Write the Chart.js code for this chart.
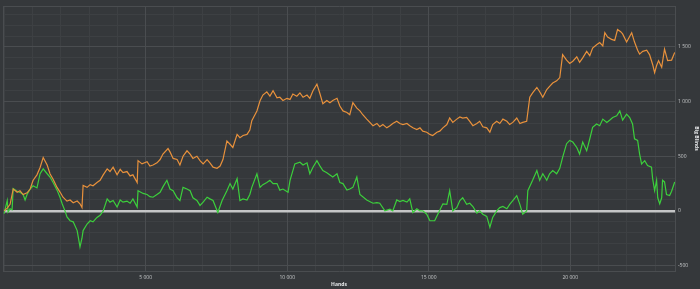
<!DOCTYPE html>
<html lang="en">
<head>
    <meta charset="UTF-8">
    <title>Big Blinds / Hands</title>
    <script src="https://cdn.jsdelivr.net/npm/chart.js"></script>
    <style>
        html, body {
            margin: 0;
            padding: 0;
            background-color: #35383b;
        }
        #box {
            width: 700px;
            height: 289px;
        }
    </style>
</head>
<body>
    <div id="box"><canvas id="grafico"></canvas></div>

    <script>
        // orange line (hands, big blinds)
        const orangeHands = [
            0,110,210,320,460,560,670,810,920,1020,
            1160,1270,1380,1520,1620,1730,1870,1980,2080,2220,
            2330,2440,2580,2680,2750,2790,2930,3040,3140,3280,
            3390,3500,3640,3740,3850,3990,4100,4200,4340,4450,
            4550,4700,4730,4870,5050,5150,5260,5400,5510,5610,
            5790,5860,5970,6110,6210,6320,6460,6570,6670,6810,
            6920,
            7030,7170,7270,7380,7520,7630,7730,7870,7980,8080,
            8230,8330,8440,8580,8680,8750,8930,9040,9140,9280,
            9390,9500,9640,9740,9850,9990,10100,10200,10340,10450,
            10560,10700,10800,10910,11050,11160,11260,11400,11510,11610,
            11760,11860,11970,12110,12210,12320,12460,12570,12670,12810,
            12920,13030,13170,13270,13380,13520,13630,13730,13870,13980,
            14090,14230,14330,14440,14580,14690,14790,14930,15040,15140,
            15290,15390,15500,15640,15740,15850,15990,16100,16200,16340,
            16450,16560,16700,16800,16910,17050,17160,17260,17400,17510,
            17620,17760,17860,17970,18110,18220,18320,18460,18570,18670,
            18820,18920,19030,19170,19270,19380,19520,19630,19730,19870,
            19980,20090,20230,20330,20440,20580,20690,20790,20930,21040,
            21150,21220,21320,21460,21570,21670,21780,21850,21990,22170,
            22270,22380,22450,22560,22700,22800,22910,22980,23050,23120,
            23230,23330,23440,23580,23690
        ];
        const orangeBB = [
            0,25,60,200,170,185,150,165,200,278,
            330,397,488,420,340,290,215,170,125,90,
            100,75,90,65,30,232,215,240,230,260,
            280,330,385,360,400,330,380,350,360,320,
            330,260,460,430,450,410,420,440,470,520,
            570,540,480,470,420,500,550,520,480,500,
            460,
            430,470,440,400,390,410,470,640,610,580,
            700,670,690,700,740,825,915,1008,1060,1090,
            1050,1100,1035,1040,1010,1030,1020,1070,1050,1080,
            1040,1060,1030,1100,1160,1070,980,1010,990,1010,
            1030,960,915,900,880,990,940,915,880,840,
            810,780,800,770,790,760,780,800,820,800,
            790,800,780,760,745,760,730,720,700,690,
            720,730,760,790,850,810,840,860,850,855,
            820,780,800,820,770,760,720,790,820,800,
            840,820,790,810,850,800,810,820,1040,1080,
            1130,1090,1040,1110,1140,1170,1190,1220,1430,1380,
            1350,1370,1410,1360,1400,1460,1420,1490,1520,1540,
            1510,1630,1590,1570,1560,1660,1640,1620,1545,1630,
            1545,1470,1435,1460,1470,1430,1340,1265,1330,1375,
            1315,1480,1375,1380,1450
        ];

        // green line (hands, big blinds)
        const greenHands = [
            0,40,110,140,210,280,320,460,560,670,
            740,810,920,1020,1160,1270,1380,1520,1620,1730,
            1870,1980,2050,2150,2220,2330,2440,2580,2680,2750,
            2790,2930,3040,3140,3280,3390,3500,3640,3740,3850,
            3990,4100,4200,4340,4450,4550,4700,4730,4910,5050,
            5150,5260,5400,5510,5610,5750,5860,5970,6110,6210,
            6320,6460,6570,6670,6810,6920,
            7030,7170,7270,7380,7550,7700,7870,7980,8080,8230,
            8330,8440,8580,8680,8750,8930,9040,9140,9280,9390,
            9500,9640,9740,9850,10030,10100,10270,10450,10560,10700,
            10800,10910,11050,11160,11260,11400,11610,11760,11860,11970,
            12110,12210,12320,12460,12570,12810,13030,13170,13270,13450,
            13630,13730,13870,13980,
            14090,14230,14330,14440,14580,14690,14790,14930,15040,15210,
            15320,15500,15640,15740,15850,15990,16100,16200,16340,16450,
            16560,16700,16800,16910,17050,17160,17260,17400,17510,17620,
            17760,17860,17970,18110,18220,18320,18460,18500,18670,18820,
            18920,19030,19170,19270,19380,19520,19630,19730,19870,19980,
            20090,20230,20330,20440,20580,20690,20790,20930,21040,
            21150,21290,21390,21500,21640,21750,21850,21990,22100,22200,
            22270,22380,22450,22520,22630,22730,22870,22910,22980,23050,
            23090,23160,23230,23260,23330,23400,23510,23580,23690
        ];
        const greenBB = [
            -25,20,95,-10,20,10,205,180,170,150,
            100,150,200,230,210,340,385,340,310,260,
            190,120,65,0,-55,-90,-100,-180,-330,-250,
            -180,-120,-90,-100,-60,-40,0,110,80,95,
            35,100,80,90,70,110,35,185,160,150,
            130,125,150,170,220,280,200,185,120,95,
            215,200,185,120,95,50,
            80,125,110,95,-15,95,185,250,200,295,
            95,110,100,150,215,340,215,240,260,280,
            250,250,190,200,170,280,430,445,420,440,
            340,400,460,410,370,350,310,340,260,250,
            190,200,215,310,150,100,70,75,70,0,
            15,0,100,85,
            95,80,110,-15,20,0,0,-30,-90,-90,
            -30,65,60,185,0,30,95,120,60,70,
            40,-20,0,-30,-50,-150,-60,0,30,40,
            20,60,95,140,60,-30,0,185,280,370,
            280,340,280,340,370,340,390,490,615,645,
            630,580,520,630,550,660,765,795,780,
            840,810,830,855,870,915,830,885,855,795,
            660,645,520,430,460,415,400,295,185,280,
            120,65,120,280,265,150,140,180,265
        ];

        // tick labels
        const handsTicks = [5000, 10000, 15000, 20000];
        const bbTicks = [-500, 0, 500, 1000, 1500];

        // axis ranges
        const handsMin = -40, handsMax = 23700, handsMinorStep = 1000;
        const bbMin = -550, bbMax = 1875, bbMinorStep = 100;

        const corGrade = '#4a4d50';
        const corGradeFina = '#3d4043';
        const corTexto = '#c4c6c8';

        function pares(xs, ys) {
            return xs.map((x, i) => ({ x: x, y: ys[i] }));
        }

        function milhar(v) {
            return String(v).replace(/\B(?=(\d{3})+(?!\d))/g, ' ');
        }

        // minor grid positions: every step, skipping the labelled ones
        function fina(step, min, max, majores) {
            const lista = [];
            for (let v = Math.ceil(min / step) * step; v < max; v += step) {
                if (v > min && !majores.includes(v)) lista.push({ value: v });
            }
            return lista;
        }

        const ctx = document.getElementById('grafico').getContext('2d');

        new Chart(ctx, {
            type: 'line',
            data: {
                datasets: [
                    {
                        label: 'orange',
                        data: pares(orangeHands, orangeBB),
                        borderColor: '#e8913c',
                        borderWidth: 1.2,
                        pointRadius: 0,
                        tension: 0,
                        xAxisID: 'x',
                        yAxisID: 'y'
                    },
                    {
                        label: 'green',
                        data: pares(greenHands, greenBB),
                        borderColor: '#3ccf3c',
                        borderWidth: 1.2,
                        pointRadius: 0,
                        tension: 0,
                        xAxisID: 'x',
                        yAxisID: 'y'
                    }
                ]
            },
            options: {
                responsive: true,
                maintainAspectRatio: false,
                animation: false,
                layout: { padding: { left: 3, top: 5, right: 0, bottom: 0 } },
                plugins: {
                    legend: { display: false },
                    tooltip: { enabled: false }
                },
                scales: {
                    xMinor: {
                        type: 'linear',
                        position: 'top',
                        min: handsMin,
                        max: handsMax,
                        ticks: { display: false },
                        afterBuildTicks: s => { s.ticks = fina(handsMinorStep, handsMin, handsMax, handsTicks); },
                        afterFit: s => { s.height = 0; },
                        grid: { drawTicks: false, color: corGradeFina },
                        border: { display: true, color: corGrade }
                    },
                    yMinor: {
                        type: 'linear',
                        position: 'left',
                        min: bbMin,
                        max: bbMax,
                        ticks: { display: false },
                        afterBuildTicks: s => { s.ticks = fina(bbMinorStep, bbMin, bbMax, bbTicks); },
                        afterFit: s => { s.width = 0; },
                        grid: { drawTicks: false, color: corGradeFina },
                        border: { display: true, color: corGrade }
                    },
                    x: {
                        type: 'linear',
                        position: 'bottom',
                        min: handsMin,
                        max: handsMax,
                        ticks: {
                            color: corTexto,
                            font: { family: 'Open Sans', size: 5 },
                            padding: 4,
                            maxRotation: 0,
                            autoSkip: false,
                            callback: v => milhar(v)
                        },
                        afterBuildTicks: s => { s.ticks = handsTicks.map(v => ({ value: v })); },
                        afterFit: s => { s.height = 18; },
                        grid: { drawTicks: false, color: corGrade },
                        border: { display: true, color: corGrade },
                        title: {
                            display: true,
                            text: 'Hands',
                            color: '#e4e6e8',
                            font: { family: 'Open Sans', size: 5, weight: 'bold' },
                            padding: { top: 2, bottom: 1 }
                        }
                    },
                    y: {
                        type: 'linear',
                        position: 'right',
                        min: bbMin,
                        max: bbMax,
                        ticks: {
                            color: corTexto,
                            font: { family: 'Open Sans', size: 5 },
                            padding: 3,
                            autoSkip: false,
                            callback: v => milhar(v)
                        },
                        afterBuildTicks: s => { s.ticks = bbTicks.map(v => ({ value: v })); },
                        afterFit: s => { s.width = 25; },
                        grid: {
                            drawTicks: false,
                            color: c => (c.tick && c.tick.value === 0) ? '#c4c5c6' : corGrade,
                            lineWidth: c => (c.tick && c.tick.value === 0) ? 2.5 : 1
                        },
                        border: { display: true, color: corGrade },
                        title: {
                            display: true,
                            text: 'Big Blinds',
                            color: '#e4e6e8',
                            font: { family: 'Open Sans', size: 5, weight: 'bold' },
                            padding: { top: 1, bottom: 1 }
                        }
                    }
                }
            }
        });
    </script>
</body>
</html>
